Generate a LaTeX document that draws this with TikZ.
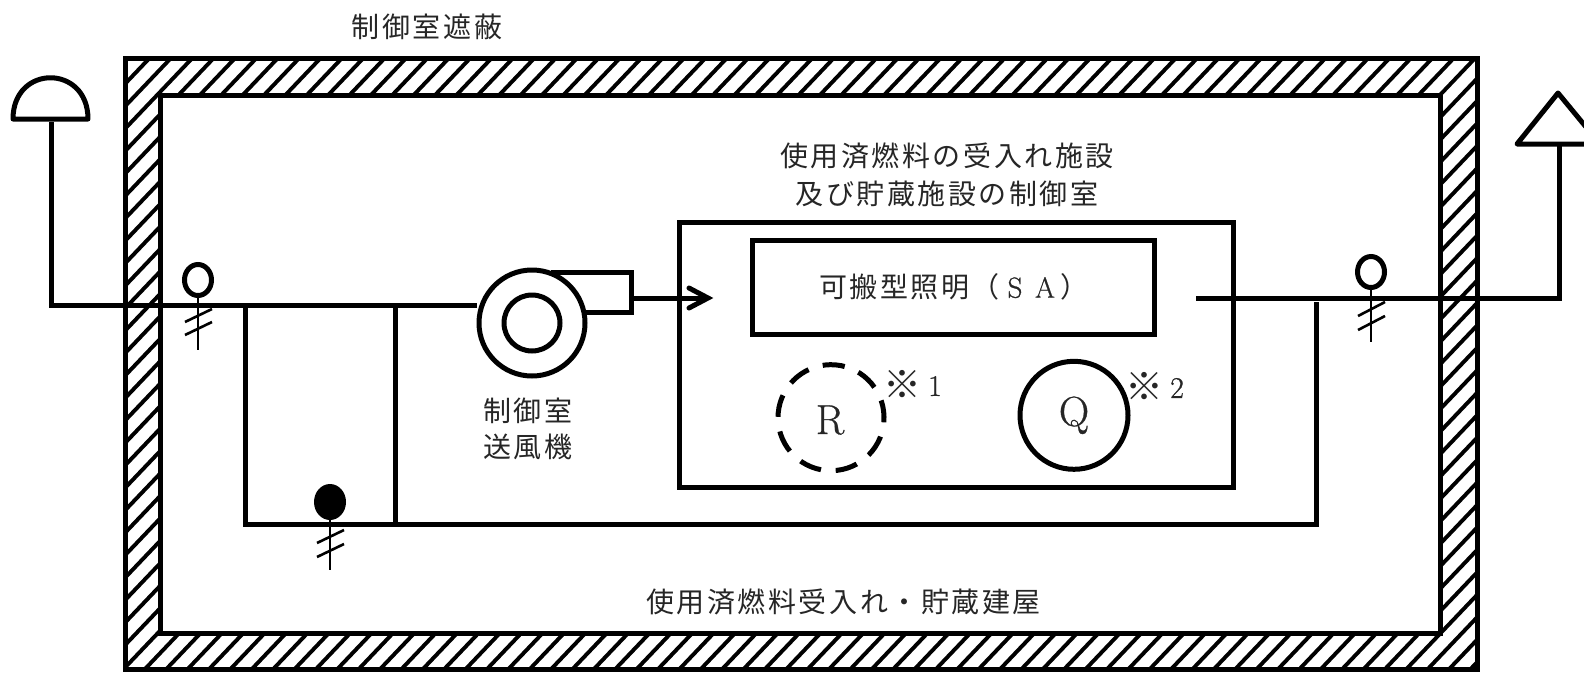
\documentclass[tikz,border=0pt]{standalone}
\usepackage{fontspec}
\usetikzlibrary{shapes.geometric}
\setmainfont[LetterSpace=9]{Noto Sans CJK JP}
\newfontfamily\lmr[FakeBold=0.7]{Latin Modern Roman}
\newcommand{\wl}[1]{\makebox[30pt]{\lmr\fontsize{29}{29}\selectfont #1}}
\tikzset{x=1pt,y=-1pt,
 heavy/.style={line width=5pt,line join=miter},
 thinline/.style={line width=2.6pt},
 instr/.style={ellipse,draw,line width=5pt,minimum width=27pt,minimum height=31pt,inner sep=0pt},
 lbl/.style={font=\fontsize{28}{38}\selectfont,align=center,inner sep=0pt,text=black!85}}
\begin{document}
\begin{tikzpicture}
\useasboundingbox (0,0) rectangle (1584,672);
\begin{scope}
\clip (0,0) rectangle (1584,672);
% hatched wall
\begin{scope}
\clip (125,58.5) rectangle (1477,669.5);
\foreach \k in {0,...,110}{
 \draw[line width=3.9pt] ({\k*21.38},58) -- ++(-700,735);
}
\end{scope}
\fill[white] (160.5,95) rectangle (1440.5,633.5);
\draw[heavy] (125,58.5) rectangle (1477,669.5);
\draw[heavy] (160.5,95) rectangle (1440.5,633.5);
% terminals
\draw[heavy,line join=round] (13,119) .. controls (13,64) and (88,64) .. (88,119) -- cycle;
\draw[heavy,line join=round] (1517,144) -- (1558,93) -- (1600,144) -- cycle;
\coordinate (inTop) at (51.5,122);
\coordinate (inCorner) at (51.5,305.5);
\coordinate (fanIn) at (477,305.5);
\draw[heavy] (inTop) -- (inCorner) -- (fanIn);
% fan
\node[circle,draw,line width=5pt,minimum size=106pt,inner sep=0pt] (fan) at (532,323) {};
\node[circle,draw,line width=5pt,minimum size=56pt,inner sep=0pt] (fanEye) at (532,323) {};
\draw[heavy] (551,272) -- (631,272) -- (631,312) -- (585,312);
% ducts
\draw[heavy] (245,305.5) -- (245,524) -- (1316,524) -- (1316,302);
\draw[heavy] (395,305.5) -- (395,524);
\coordinate (outStart) at (1196,298);
\coordinate (outCorner) at (1559,298);
\coordinate (outTop) at (1559,146);
\draw[heavy] (outStart) -- (outCorner) -- (outTop);
% room
\node[draw,line width=5pt,minimum width=554pt,minimum height=265pt,inner sep=0pt] (room) at (956,354.5) {};
\node[draw,line width=5pt,minimum width=402.5pt,minimum height=94pt,inner sep=0pt,lbl] (sa) at (953.7,287) {可搬型照明（\wl{S}\wl{A}）};
\draw[heavy] (631,298) -- (706,298);
\draw[heavy,line cap=round,line join=miter] (689,288) -- (708,298) -- (689,308);
% circles
\coordinate (rc) at (831,417.7);
\draw[line width=5pt,dash pattern=on 22.2pt off 14.8pt] (rc) ++(52.8,4.6) arc[start angle=-5,end angle=355,radius=53pt];
\node[circle,draw,line width=5pt,minimum size=108pt,inner sep=0pt] (q) at (1074,415.3) {};
\node[lbl,font=\lmr\fontsize{42}{42}\selectfont] at (830,420) {R};
\node[lbl,font=\lmr\fontsize{42}{42}\selectfont] at (q) {Q};
% instruments
\node[instr] (i1) at (198,280) {};
\draw[thinline] (i1.south) -- ++(0,52);
\draw[thinline] (185,322) -- (212,309) (185,335) -- (212,322);
\node[instr] (i2) at (1371,272) {};
\draw[thinline] (i2.south) -- ++(0,52);
\draw[thinline] (1358,316) -- (1385,302) (1358,330) -- (1385,316);
\node[ellipse,fill,minimum width=32pt,minimum height=36pt,inner sep=0pt] (i3) at (330,502) {};
\draw[thinline] (i3.south) -- ++(0,50);
\draw[thinline] (317,543) -- (344,530) (317,557) -- (344,544);
\end{scope}
% labels
\node[lbl] (l1) at (427,27) {制御室遮蔽};
\node[lbl] (l2) at (947,174.5) {使用済燃料の受入れ施設\\及び貯蔵施設の制御室};
\node[lbl,font=\fontsize{28}{36}\selectfont] (l3) at (528,428.5) {制御室\\送風機};
\node[lbl] (l4) at (843.5,602) {使用済燃料受入れ・貯蔵建屋};
\node[lbl,font=\fontsize{38}{38}\selectfont] (n1) at (902.5,384) {※};
\node[lbl,font=\lmr\fontsize{30}{30}\selectfont] (d1) at (935,386) {1};
\node[lbl,font=\fontsize{38}{38}\selectfont] (n2) at (1144,386) {※};
\node[lbl,font=\lmr\fontsize{30}{30}\selectfont] (d2) at (1177,388) {2};
\end{tikzpicture}
\end{document}
